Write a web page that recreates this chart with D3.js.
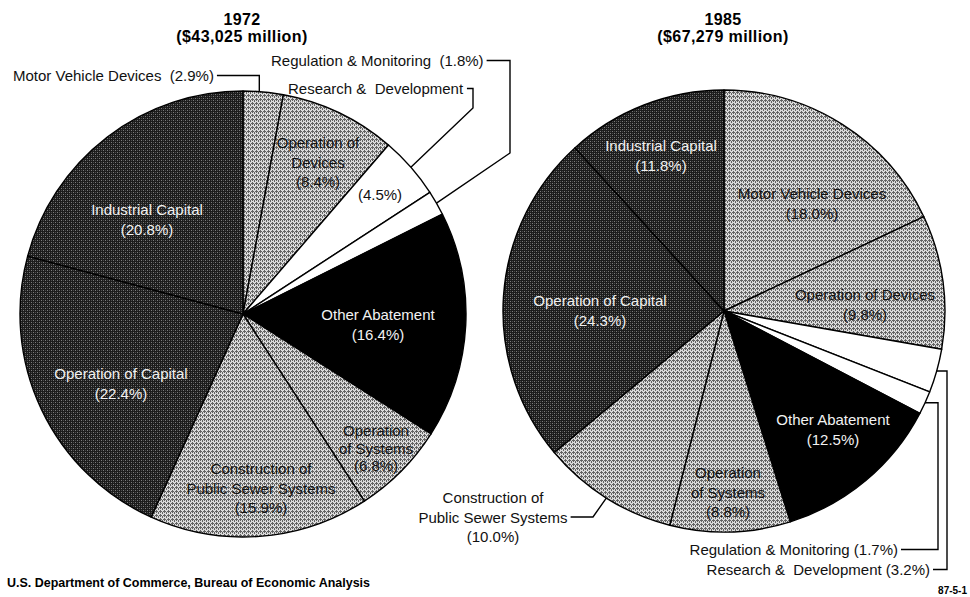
<!DOCTYPE html>
<html>
<head>
<meta charset="utf-8">
<script src="https://cdn.jsdelivr.net/npm/d3@7"></script>
<style>
	html, body { margin: 0; padding: 0; background: #fff; }
	svg { display: block; font-family: 'Liberation Sans', Arial, Helvetica, sans-serif; }
</style>
</head>
<body>
<div id="chart"></div>
<script>
const categories = [
	'Motor Vehicle Devices', 'Operation of Devices', 'Research & Development',
	'Regulation & Monitoring', 'Other Abatement', 'Operation of Systems',
	'Construction of Public Sewer Systems', 'Operation of Capital', 'Industrial Capital'
];
const shares_1972 = [2.9, 8.4, 4.5, 1.8, 16.4, 6.8, 15.9, 22.4, 20.8];
const shares_1985 = [18.0, 9.8, 3.2, 1.7, 12.5, 8.8, 10.0, 24.3, 11.8];
const fill_kinds = ['light', 'light', 'white', 'white', 'black', 'light', 'light', 'dark', 'dark'];
const years = ['1972', '1985'];
const totals = ['$43,025 million', '$67,279 million'];
const source = 'U.S. Department of Commerce, Bureau of Economic Analysis';
const figure_id = '87-5-1';

const width = 970, height = 597;
const pct = v => `(${d3.format('.1f')(v)}%)`;
const sp = '\u00a0';

// label layout per pie: category index, anchor x, first baseline, lines ({v} = share)
const layouts = [
	{
		cx: 243, cy: 314, r: 223,
		labels: [
			{ i: 0, x: 13, y: 81, anchor: 'start', lines: [`Motor Vehicle Devices ${sp}{v}`], leader: (s, p) => [s, [p[0] - 4, s[1]], [p[0] - 4, p[1]]] },
			{ i: 1, x: 318, y: 148, lines: ['Operation of', 'Devices', '{v}'] },
			{ i: 2, x: 288, y: 94, anchor: 'start', lines: [`Research &${sp} Development`], leader: (s, p) => [s, [473, s[1]], [473, 108], p] },
			{ i: 2, x: 380, y: 200, lines: ['{v}'] },
			{ i: 3, x: 271, y: 66, anchor: 'start', lines: [`Regulation & Monitoring ${sp}{v}`], leader: (s, p) => [s, [510, s[1]], [510, 153], p] },
			{ i: 4, x: 378, y: 320, lines: ['Other Abatement', '{v}'] },
			{ i: 5, x: 376, y: 436, lines: ['Operation', 'of Systems', '{v}'], dy: 17.5 },
			{ i: 6, x: 261, y: 474, lines: ['Construction of', 'Public Sewer Systems', '{v}'] },
			{ i: 7, x: 121, y: 379, lines: ['Operation of Capital', '{v}'] },
			{ i: 8, x: 147, y: 215, lines: ['Industrial Capital', '{v}'] }
		]
	},
	{
		cx: 724, cy: 311, r: 221,
		labels: [
			{ i: 0, x: 812, y: 199, lines: ['Motor Vehicle Devices', '{v}'] },
			{ i: 1, x: 865, y: 300, lines: ['Operation of Devices', '{v}'] },
			{ i: 2, x: 930, y: 575, anchor: 'end', lines: [`Research &${sp} Development {v}`], leader: (s, p) => [s, [947, s[1]], [947, p[1]], p] },
			{ i: 3, x: 898, y: 555, anchor: 'end', lines: ['Regulation & Monitoring {v}'], leader: (s, p) => [s, [938, s[1]], [938, p[1]], p] },
			{ i: 4, x: 833, y: 425, lines: ['Other Abatement', '{v}'] },
			{ i: 5, x: 728, y: 478, lines: ['Operation', 'of Systems', '{v}'] },
			{ i: 6, x: 493, y: 503, lines: ['Construction of', 'Public Sewer Systems', '{v}'], leader_line: 1, leader: (s, p) => [s, [593, s[1]], p] },
			{ i: 7, x: 600, y: 306, lines: ['Operation of Capital', '{v}'] },
			{ i: 8, x: 661, y: 151, lines: ['Industrial Capital', '{v}'] }
		]
	}
];

const svg = d3.select('#chart').append('svg')
	.attr('width', width)
	.attr('height', height);

svg.append('rect').attr('width', width).attr('height', height).attr('fill', '#fff');

const defs = svg.append('defs');
const dark = defs.append('pattern').attr('id', 'pat-dark')
	.attr('patternUnits', 'userSpaceOnUse').attr('width', 4).attr('height', 4);
dark.append('rect').attr('width', 4).attr('height', 4).attr('fill', '#1c1c1c');
[[0, 0], [2, 2]].forEach(([x, y]) => dark.append('rect').attr('x', x).attr('y', y)
	.attr('width', 1).attr('height', 1).attr('fill', '#7c7c7c'));
[[2, 0], [0, 2]].forEach(([x, y]) => dark.append('rect').attr('x', x).attr('y', y)
	.attr('width', 1).attr('height', 1).attr('fill', '#4a4a4a'));

const light = defs.append('pattern').attr('id', 'pat-light')
	.attr('patternUnits', 'userSpaceOnUse').attr('width', 4).attr('height', 4);
light.append('rect').attr('width', 4).attr('height', 4).attr('fill', '#dadada');
[[1, 0], [0, 1], [1, 1], [2, 1], [1, 2], [3, 3], [3, 2]].forEach(([x, y]) => light.append('rect').attr('x', x).attr('y', y)
	.attr('width', 1).attr('height', 1).attr('fill', '#636363'));

const fills = { light: 'url(#pat-light)', dark: 'url(#pat-dark)', black: '#000', white: '#fff' };
const text_colors = { light: '#111', dark: '#f2f2f2', black: '#f2f2f2', white: '#111' };

const pie = d3.pie().sort(null).value(d => d.value);

[shares_1972, shares_1985].forEach((shares, k) => {
	const { cx, cy, r, labels } = layouts[k];
	const data = categories.map((c, i) => ({ category: c, value: shares[i], kind: fill_kinds[i] }));
	const arcs = pie(data);
	const arc = d3.arc().innerRadius(0).outerRadius(r);

	const g = svg.append('g').attr('class', 'pie')
		.attr('transform', `translate(${[cx, cy]})`);

	g.selectAll('path.slice')
		.data(arcs)
		.join('path')
		.attr('class', 'slice')
		.attr('d', arc)
		.attr('fill', d => fills[d.data.kind])
		.attr('stroke', '#000')
		.attr('stroke-width', 1.4)
		.attr('stroke-linejoin', 'round');

	const titles = svg.append('g').attr('class', 'title')
		.attr('font-weight', 'bold')
		.attr('font-size', 16)
		.attr('text-anchor', 'middle')
		.attr('letter-spacing', 0.4);
	titles.append('text').attr('x', cx - 1).attr('y', 25).text(years[k]);
	titles.append('text').attr('x', cx - 1).attr('y', 42).text(`(${totals[k]})`);

	labels.forEach(l => {
		const d = arcs[l.i];
		const color = l.leader ? '#111' : text_colors[d.data.kind];
		const text = svg.append('text')
			.attr('font-size', 15)
			.attr('fill', color)
			.attr('text-anchor', l.anchor || 'middle');
		const tspans = l.lines.map((line, j) => text.append('tspan')
			.attr('x', l.x)
			.attr('y', l.y + j * (l.dy || 19.5))
			.text(line.replace('{v}', pct(d.data.value))));

		if (l.leader) {
			const box = tspans[l.leader_line || 0].node().getBBox();
			const start = [box.x + box.width + 3, box.y + box.height / 2];
			const mid = (d.startAngle + d.endAngle) / 2;
			const end = [cx + r * Math.sin(mid), cy - r * Math.cos(mid)];
			svg.append('path')
				.attr('d', d3.line()(l.leader(start, end)))
				.attr('fill', 'none')
				.attr('stroke', '#000')
				.attr('stroke-width', 1.4);
		}
	});
});

svg.append('text')
	.attr('x', 7)
	.attr('y', 587)
	.attr('font-size', 13)
	.attr('font-weight', 'bold')
	.attr('textLength', 363)
	.attr('lengthAdjust', 'spacingAndGlyphs')
	.text(source);

svg.append('text')
	.attr('x', 967)
	.attr('y', 594)
	.attr('font-size', 10)
	.attr('font-weight', 'bold')
	.attr('text-anchor', 'end')
	.text(figure_id);
</script>
</body>
</html>
